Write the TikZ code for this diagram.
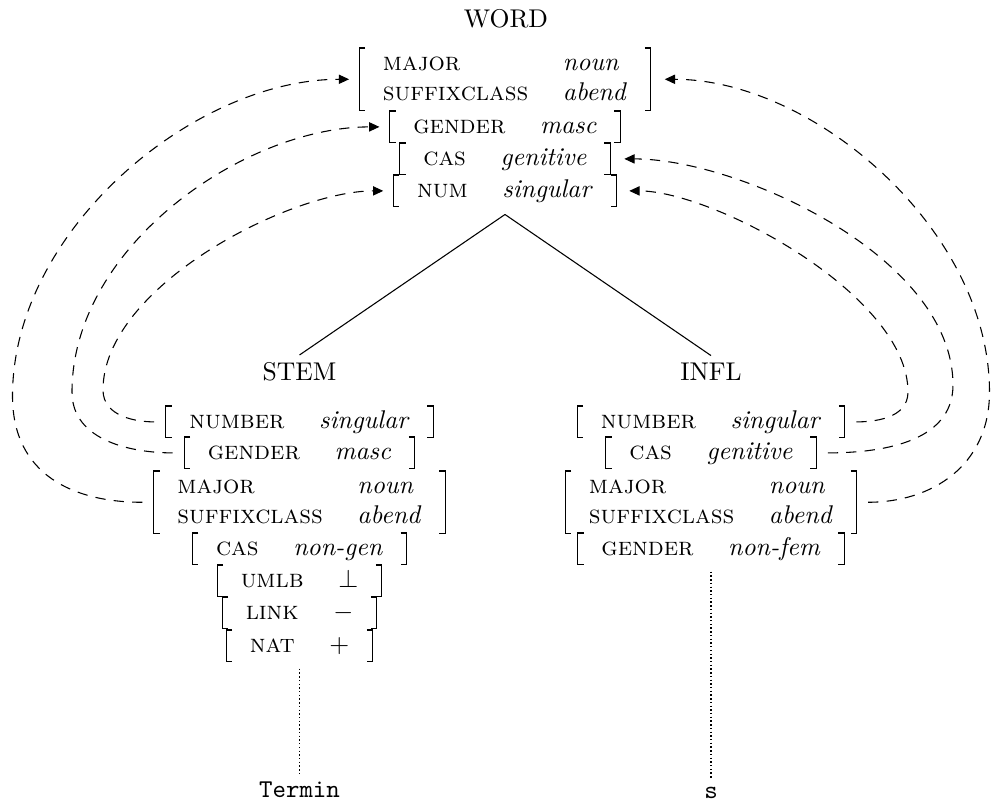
\documentclass[tikz,border=0pt]{standalone}
\usetikzlibrary{arrows.meta}
% one attribute-value pair, and a two-pair matrix
\newcommand\featpair[2]{\begin{tabular}{@{\hspace{9pt}}l@{\hspace{13.5pt}}l@{\hspace{9pt}}}\textsc{#1} & #2\end{tabular}}
\newcommand\feattwo[4]{\begin{tabular}{@{\hspace{9pt}}l@{\hspace{13.5pt}}l@{\hspace{9pt}}}\textsc{#1} & #2\\ \textsc{#3} & #4\end{tabular}}
\begin{document}
\begin{tikzpicture}[x=0.39pt,y=-0.39pt,
  avm/.style={inner sep=0pt, anchor=north},
  lbl/.style={inner sep=2.5pt, anchor=base},
  bracket/.style={line width=0.45pt},
  share/.style={line width=0.42pt, dash pattern=on 4pt off 3.2pt,
    -{Triangle[length=4pt,width=3.6pt]}, shorten <=4.5pt},
  branch/.style={line width=0.42pt},
  leafline/.style={line width=0.45pt, dash pattern=on 0.55pt off 0.9pt, shorten <=2.7pt}
]
\useasboundingbox (0,0) rectangle (991,803);

% mother node
\node[lbl] (word) at (506,28) {WORD};
\node[avm] (W1) at (505,48)  {\feattwo{major}{\textit{noun}}{suffixclass}{\textit{abend}}};
\node[avm] (W2) at (505,111) {\featpair{gender}{\textit{masc}}};
\node[avm] (W3) at (505,143) {\featpair{cas}{\textit{genitive}}};
\node[avm] (W4) at (505,175) {\featpair{num}{\textit{singular}}};

% stem daughter
\node[lbl] (stem) at (299.5,380) {STEM};
\node[avm] (S1) at (299.5,406) {\featpair{number}{\textit{singular}}};
\node[avm] (S2) at (299.5,437) {\featpair{gender}{\textit{masc}}};
\node[avm] (S3) at (299.5,471) {\feattwo{major}{\textit{noun}}{suffixclass}{\textit{abend}}};
\node[avm] (S4) at (299.5,533) {\featpair{cas}{\textit{non-gen}}};
\node[avm] (S5) at (299.5,565) {\featpair{umlb}{$\perp$}};
\node[avm] (S6) at (299.5,597) {\featpair{link}{$-$}};
\node[avm] (S7) at (299.5,630) {\featpair{nat}{$+$}};
\node[lbl] (termin) at (299.5,797) {\texttt{Termin}};

% inflection daughter
\node[lbl] (infl) at (711,380) {INFL};
\node[avm] (I1) at (711,406) {\featpair{number}{\textit{singular}}};
\node[avm] (I2) at (711,437) {\featpair{cas}{\textit{genitive}}};
\node[avm] (I3) at (711,471) {\feattwo{major}{\textit{noun}}{suffixclass}{\textit{abend}}};
\node[avm] (I4) at (711,533) {\featpair{gender}{\textit{non-fem}}};
\node[lbl] (suffix) at (711,798) {\texttt{s}};

% square brackets round every matrix
\foreach \n in {W1,W2,W3,W4,S1,S2,S3,S4,S5,S6,S7,I1,I2,I3,I4}{
  \draw[bracket] ([xshift=2.3pt]\n.north west) -- (\n.north west) -- (\n.south west) -- ([xshift=2.3pt]\n.south west);
  \draw[bracket] ([xshift=-2.3pt]\n.north east) -- (\n.north east) -- (\n.south east) -- ([xshift=-2.3pt]\n.south east);
}

% tree branches
\coordinate (apex) at ([yshift=-3pt]W4.south);
\draw[branch] (apex) -- (stem.north);
\draw[branch] (apex) -- (infl.north);
\draw[leafline] (S7.south) -- (termin.north);
\draw[leafline] (I4.south) -- (suffix.north);

% structure sharing: left side
\coordinate (l1) at (12.5,396);
\coordinate (l2) at (72,392);
\coordinate (l3) at (103,390);
\draw[share, shorten >=4pt] (S3.west) to[out=180,in=270,looseness=1.15] (l1)
  to[out=90,in=180,looseness=0.9] (W1.west);
\draw[share, shorten >=4pt] (S2.west) to[out=180,in=270] (l2)
  to[out=90,in=180,looseness=0.9] (W2.west);
\draw[share, shorten >=4pt] (S1.west) to[out=180,in=270] (l3)
  to[out=90,in=180,looseness=0.75] (W4.west);

% structure sharing: right side
\coordinate (r1) at (989.5,392);
\coordinate (r2) at (953,385);
\coordinate (r3) at (908,392);
\draw[share, shorten >=5.5pt] (I3.east) to[out=0,in=270,looseness=1.1] (r1)
  to[out=90,in=0,looseness=0.9] (W1.east);
\draw[share, shorten >=5.5pt] (I2.east) to[out=0,in=270] (r2)
  to[out=90,in=0,looseness=0.8] (W3.east);
\draw[share, shorten >=5pt] (I1.east) to[out=0,in=270] (r3)
  to[out=90,in=0,looseness=0.7] (W4.east);
\end{tikzpicture}
\end{document}
